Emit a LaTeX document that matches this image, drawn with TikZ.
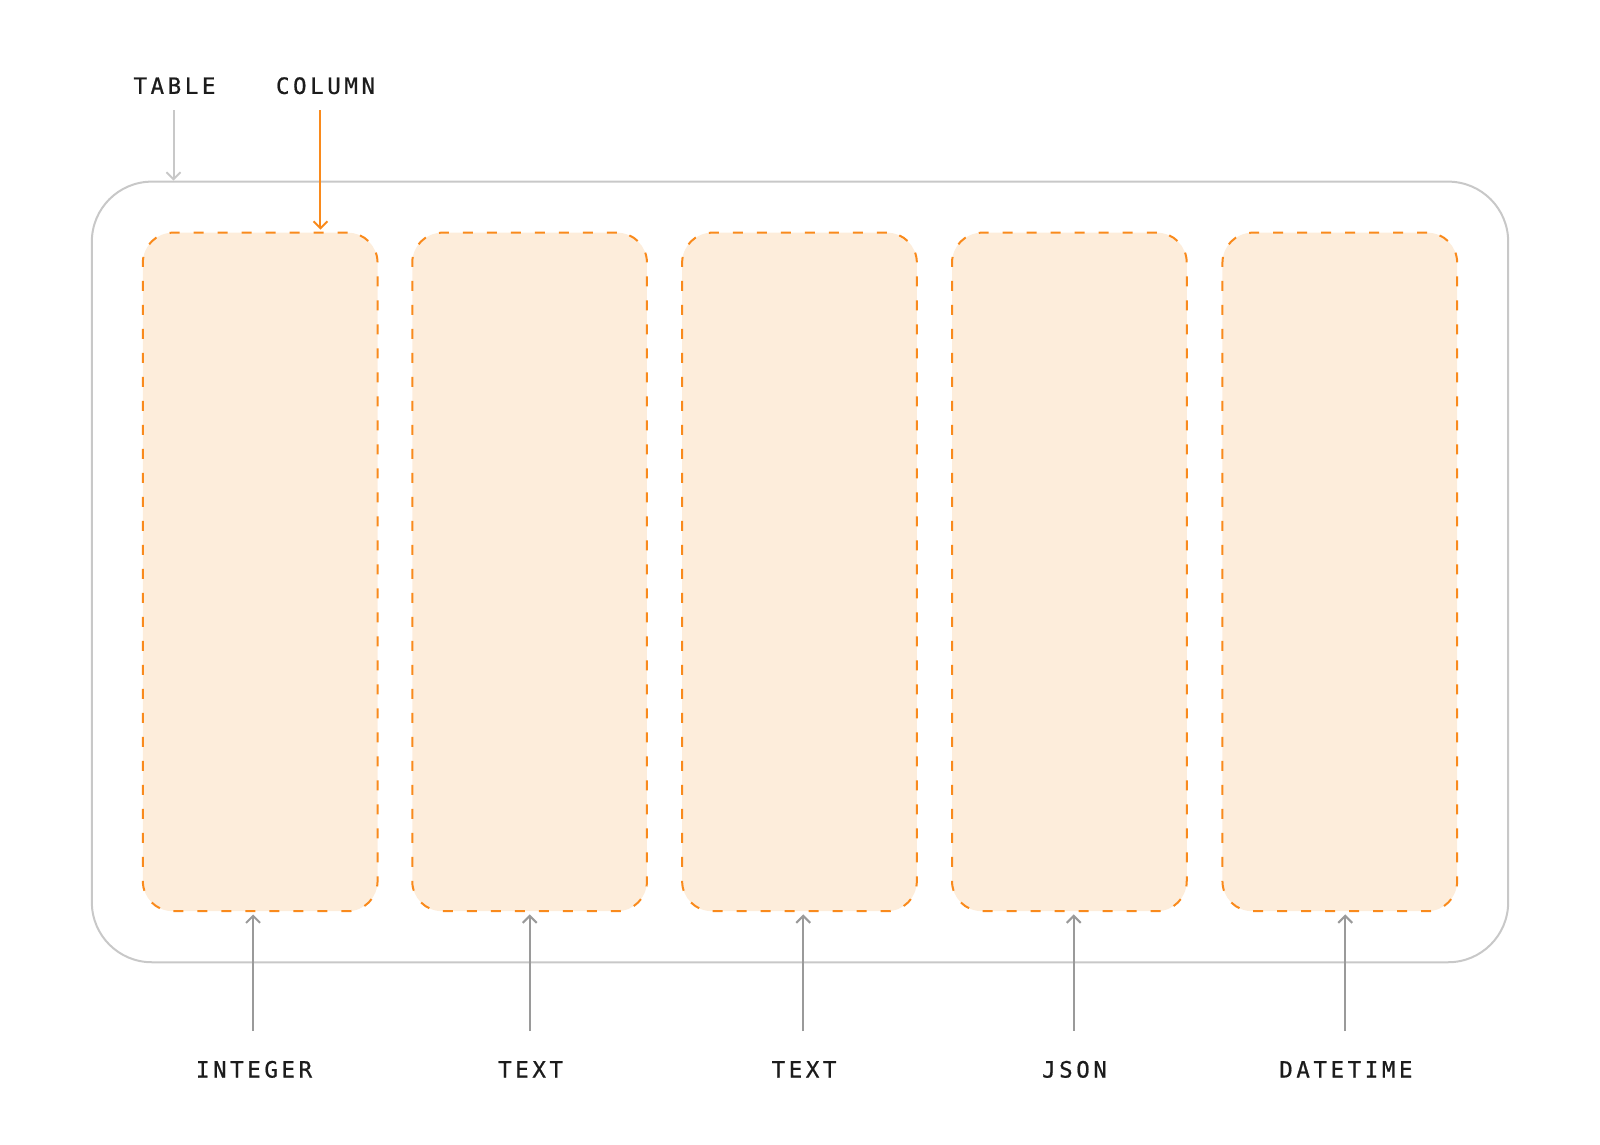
\documentclass[tikz,border=0pt]{standalone}
\usepackage{fontspec}
\usetikzlibrary{arrows.meta}
\newfontfamily\labelfont[LetterSpace=16, FakeBold=0.8]{DejaVu Sans Mono}
\definecolor{colorange}{HTML}{F98A1C}
\definecolor{colfill}{HTML}{FDEDDB}
\definecolor{tblgray}{HTML}{C8C8C8}
\definecolor{arrgray}{HTML}{9A9A9A}
\definecolor{ink}{HTML}{1C1C1C}

\begin{document}
\begin{tikzpicture}[x=1pt, y=-1pt, scale=1.0204, transform shape]
  \tikzset{
    tablebox/.style={draw=tblgray, line width=2pt, rounded corners=60pt,
      minimum width=1388pt, minimum height=765pt, inner sep=0pt},
    colbox/.style={draw=colorange, fill=colfill, line width=2pt,
      dash pattern=on 10pt off 14pt, rounded corners=30pt,
      minimum width=230pt, minimum height=665pt, inner sep=0pt},
    lbl/.style={font=\labelfont\fontsize{22}{26}\selectfont, text=ink, inner sep=0pt},
    tip/.style={-{Straight Barb[length=7pt, width=14pt, line width=2pt]}}
  }
  \useasboundingbox (0,0) rectangle (1568,1122);
  % outer table
  \node[tablebox] (tbl) at (784,560.5) {};
  % columns
  \node[colbox] (c1) at (255,560.5) {};
  \node[colbox] (c2) at (519,560.5) {};
  \node[colbox] (c3) at (783.5,560.5) {};
  \node[colbox] (c4) at (1048,560.5) {};
  \node[colbox] (c5) at (1313,560.5) {};
  % top labels
  \node[lbl, anchor=base] (table) at (171,92) {TABLE};
  \node[lbl, anchor=base] (colm) at (319,92) {COLUMN};
  \draw[tip, draw=tblgray, line width=2pt, shorten <=16pt]
    ([xshift=-1pt]table.south) -- ([xshift=-1pt]table.south |- tbl.north);
  \draw[tip, draw=colorange, line width=2pt, shorten <=16pt, shorten >=2pt]
    ([xshift=-5pt]colm.south) -- ([xshift=-5pt]colm.south |- c1.north);
  % type labels
  \node[lbl, anchor=base] (t1) at (249,1056) {INTEGER};
  \node[lbl, anchor=base] (t2) at (520,1056) {TEXT};
  \node[lbl, anchor=base] (t3) at (788,1056) {TEXT};
  \node[lbl, anchor=base] (t4) at (1053,1056) {JSON};
  \node[lbl, anchor=base] (t5) at (1319,1056) {DATETIME};
  \draw[tip, draw=arrgray, line width=2pt, shorten <=30pt, shorten >=2pt]
    ([xshift=-1pt]t1.north) -- ([xshift=-1pt]t1.north |- c1.south);
  \draw[tip, draw=arrgray, line width=2pt, shorten <=30pt, shorten >=2pt]
    ([xshift=-1pt]t2.north) -- ([xshift=-1pt]t2.north |- c2.south);
  \draw[tip, draw=arrgray, line width=2pt, shorten <=30pt, shorten >=2pt]
    ([xshift=-1pt]t3.north) -- ([xshift=-1pt]t3.north |- c3.south);
  \draw[tip, draw=arrgray, line width=2pt, shorten <=30pt, shorten >=2pt]
    ([xshift=-1pt]t4.north) -- ([xshift=-1pt]t4.north |- c4.south);
  \draw[tip, draw=arrgray, line width=2pt, shorten <=30pt, shorten >=2pt]
    ([xshift=-1pt]t5.north) -- ([xshift=-1pt]t5.north |- c5.south);
\end{tikzpicture}
\end{document}
